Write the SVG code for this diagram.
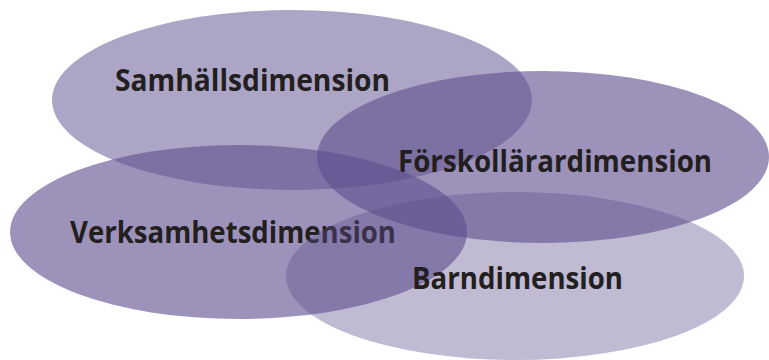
<svg xmlns="http://www.w3.org/2000/svg" width="769" height="360" viewBox="0 0 769 360">
  <style>
    .ell { fill: #5e4f8e; }
    .lbl { font-family: "Open Sans", "Liberation Sans", Arial, sans-serif; font-weight: bold; font-size: 29.5px; fill: #231f20; }
  </style>
  <rect x="0" y="0" width="769" height="360" fill="#ffffff"/>
  <g id="connectors"></g>
  <g id="samhallsdimension">
    <ellipse class="ell" cx="292" cy="100" rx="240" ry="90" fill-opacity="0.51"/>
    <text class="lbl" x="115" y="91" textLength="275" lengthAdjust="spacingAndGlyphs">Samhällsdimension</text>
  </g>
  <g id="forskollarardimension">
    <ellipse class="ell" cx="543" cy="157" rx="226" ry="86" fill-opacity="0.61"/>
    <text class="lbl" x="398" y="172" textLength="314" lengthAdjust="spacingAndGlyphs">Förskollärardimension</text>
  </g>
  <g id="verksamhetsdimension">
    <ellipse class="ell" cx="238.5" cy="232" rx="228.5" ry="87" fill-opacity="0.61"/>
    <text class="lbl" x="70" y="243" textLength="326" lengthAdjust="spacingAndGlyphs">Verksamhetsdimension</text>
  </g>
  <g id="barndimension">
    <ellipse class="ell" cx="515" cy="276" rx="229" ry="84" fill-opacity="0.39"/>
    <text class="lbl" x="412" y="289" textLength="211" lengthAdjust="spacingAndGlyphs">Barndimension</text>
  </g>
</svg>
